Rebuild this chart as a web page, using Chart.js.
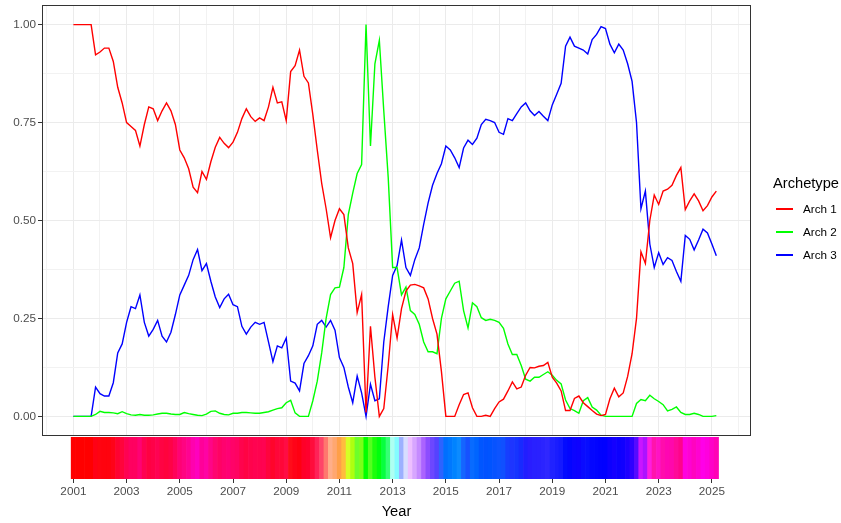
<!DOCTYPE html>
<html>
<head>
<meta charset="utf-8">
<script src="https://cdn.jsdelivr.net/npm/chart.js@4.4.1/dist/chart.umd.min.js"></script>
<style>
  body { margin: 0; background: #fff; }
  #wrap { position: relative; width: 841px; height: 523px; font-family: "Liberation Sans", Arial, sans-serif; }
  #lines { position: absolute; left: 0; top: 0; }
  #strip { position: absolute; left: 0; top: 437px; }
  #legend { position: absolute; left: 773px; top: 174px; color: #000; }
  #legend .title { font-size: 14.67px; height: 18px; line-height: 18px; }
  #legend .items { margin-top: 5px; }
  #legend .row { display: flex; align-items: center; height: 23px; font-size: 11.73px; }
  #legend .key { width: 17px; height: 2px; margin-left: 3px; margin-right: 10px; }
</style>
</head>
<body>
<div id="wrap">
  <canvas id="lines" width="841" height="437"></canvas>
  <canvas id="strip" width="841" height="86"></canvas>
  <div id="legend"></div>
</div>
<script>
// bi-monthly samples, Jan 2001 .. Mar 2025
const years = Array.from({ length: 146 }, (_, i) => 2001 + i / 6);

const seriesNames = ['Arch 1', 'Arch 2', 'Arch 3'];
const seriesColors = ['#ff0000', '#00ff00', '#0000ff'];

const arch1 = [
  1, 1, 1, 1, 1, 0.923, 0.93, 0.94, 0.94, 0.906, 0.84, 0.80,
  0.75, 0.74, 0.73, 0.69, 0.745, 0.79, 0.785, 0.755, 0.78, 0.80, 0.78, 0.745,
  0.68, 0.66, 0.632, 0.585, 0.571, 0.625, 0.605, 0.65, 0.687, 0.712, 0.697, 0.686,
  0.70, 0.725, 0.76, 0.785, 0.765, 0.753, 0.762, 0.755, 0.79, 0.84, 0.80, 0.803,
  0.755, 0.88, 0.895, 0.935, 0.868, 0.851, 0.77, 0.68, 0.595, 0.53, 0.456, 0.50,
  0.53, 0.515, 0.43, 0.39, 0.265, 0.311, 0.01, 0.23, 0.10, 0.0, 0.02, 0.13,
  0.26, 0.20, 0.275, 0.32, 0.335, 0.337, 0.333, 0.328, 0.30, 0.25, 0.21, 0.115,
  0, 0, 0, 0.03, 0.056, 0.06, 0.022, 0, 0, 0.003, 0, 0.02,
  0.037, 0.044, 0.065, 0.088, 0.07, 0.075, 0.105, 0.125, 0.124, 0.128, 0.13, 0.138,
  0.10, 0.085, 0.065, 0.015, 0.015, 0.046, 0.052, 0.035, 0.025, 0.015, 0.006, 0.002,
  0.005, 0.045, 0.072, 0.05, 0.06, 0.102, 0.16, 0.25, 0.42, 0.39, 0.50, 0.565,
  0.541, 0.575, 0.58, 0.59, 0.615, 0.635, 0.528, 0.55, 0.568, 0.55, 0.525, 0.538,
  0.56, 0.575
];

const arch2 = [
  0, 0, 0, 0, 0, 0.005, 0.013, 0.01, 0.01, 0.009, 0.007, 0.012,
  0.007, 0.004, 0.003, 0.005, 0.003, 0.003, 0.004, 0.006, 0.008, 0.008, 0.006, 0.005,
  0.005, 0.01, 0.007, 0.005, 0.003, 0.002, 0.006, 0.013, 0.014, 0.008, 0.005, 0.004,
  0.008, 0.008, 0.01, 0.01, 0.009, 0.008, 0.008, 0.01, 0.012, 0.016, 0.02, 0.022,
  0.035, 0.041, 0.009, 0, 0, 0, 0.04, 0.09, 0.162, 0.25, 0.311, 0.328,
  0.33, 0.38, 0.515, 0.57, 0.62, 0.643, 1.0, 0.69, 0.90, 0.96, 0.78, 0.61,
  0.38, 0.38, 0.31, 0.33, 0.27, 0.26, 0.235, 0.19, 0.165, 0.165, 0.16, 0.25,
  0.30, 0.32, 0.34, 0.345, 0.27, 0.226, 0.29, 0.28, 0.252, 0.245, 0.248, 0.245,
  0.24, 0.225, 0.185, 0.158, 0.158, 0.13, 0.095, 0.09, 0.10, 0.10, 0.107, 0.114,
  0.105, 0.092, 0.083, 0.042, 0.02, 0.015, 0.008, 0.04, 0.048, 0.024, 0.016, 0.003,
  0, 0, 0, 0, 0, 0, 0, 0.033, 0.043, 0.04, 0.054, 0.045,
  0.038, 0.03, 0.014, 0.018, 0.024, 0.01, 0.005, 0.005, 0.008, 0.005, 0, 0,
  0, 0.002
];

const arch3 = [
  0, 0, 0, 0, 0, 0.075, 0.058, 0.052, 0.052, 0.086, 0.162, 0.185,
  0.24, 0.28, 0.275, 0.31, 0.24, 0.205, 0.222, 0.245, 0.205, 0.19, 0.215, 0.26,
  0.31, 0.335, 0.36, 0.40, 0.426, 0.372, 0.39, 0.345, 0.305, 0.278, 0.30, 0.312,
  0.285, 0.28, 0.23, 0.21, 0.228, 0.24, 0.235, 0.24, 0.19, 0.14, 0.18, 0.175,
  0.20, 0.09, 0.085, 0.065, 0.135, 0.155, 0.18, 0.235, 0.245, 0.228, 0.245, 0.22,
  0.15, 0.125, 0.075, 0.035, 0.103, 0.06, 0, 0.082, 0.04, 0.045, 0.19, 0.28,
  0.36, 0.385, 0.45, 0.38, 0.36, 0.40, 0.43, 0.49, 0.545, 0.59, 0.62, 0.645,
  0.69, 0.68, 0.66, 0.635, 0.685, 0.705, 0.694, 0.71, 0.745, 0.758, 0.755, 0.75,
  0.725, 0.72, 0.76, 0.755, 0.773, 0.79, 0.80, 0.78, 0.768, 0.778, 0.766, 0.755,
  0.795, 0.822, 0.85, 0.945, 0.968, 0.945, 0.94, 0.935, 0.925, 0.962, 0.975, 0.995,
  0.99, 0.95, 0.928, 0.95, 0.935, 0.90, 0.855, 0.75, 0.53, 0.575, 0.44, 0.38,
  0.418, 0.388, 0.405, 0.398, 0.37, 0.345, 0.462, 0.452, 0.425, 0.45, 0.478, 0.468,
  0.44, 0.41
];

const yTicks = [0, 0.25, 0.5, 0.75, 1];
const xTickYears = [2001, 2003, 2005, 2007, 2009, 2011, 2013, 2015, 2017, 2019, 2021, 2023, 2025];

const allSeries = [arch1, arch2, arch3];
const xMin = 1999.82, xMax = 2026.47;

Chart.defaults.font.family = '"Liberation Sans", Arial, sans-serif';
Chart.defaults.animation = false;

// strip colour = archetype weights scaled so the largest channel is full
const stripColors = years.map((_, i) => {
  const w = allSeries.map(s => s[i]);
  const m = Math.max(...w) || 1;
  return 'rgb(' + w.map(v => Math.round(255 * v / m)).join(',') + ')';
});

const panelBorder = {
  id: 'panelBorder',
  afterDraw(chart) {
    const { ctx, chartArea: a } = chart;
    ctx.save();
    ctx.strokeStyle = '#333333';
    ctx.lineWidth = 1;
    ctx.strokeRect(Math.round(a.left) + 0.5, Math.round(a.top) + 0.5,
      Math.round(a.right - a.left) - 1, Math.round(a.bottom - a.top) - 1);
    ctx.restore();
  }
};

const noPad = s => { s.paddingTop = 0; s.paddingBottom = 0; s.paddingLeft = 0; s.paddingRight = 0; };
const isMajorY = v => yTicks.some(t => Math.abs(t - v) < 1e-6);

const linesChart = new Chart(document.getElementById('lines'), {
  type: 'line',
  data: {
    datasets: seriesNames.map((name, k) => ({
      label: name,
      data: years.map((t, i) => ({ x: t, y: allSeries[k][i] })),
      borderColor: seriesColors[k],
      backgroundColor: seriesColors[k],
      borderWidth: 1.4,
      pointRadius: 0,
      tension: 0
    }))
  },
  options: {
    responsive: false,
    layout: { padding: { top: 5, right: 90, bottom: 1, left: 0 } },
    plugins: { legend: { display: false }, tooltip: { enabled: false } },
    scales: {
      x: {
        type: 'linear',
        min: xMin,
        max: xMax,
        afterBuildTicks: s => { s.ticks = []; for (let y = 2000; y <= 2026; y++) s.ticks.push({ value: y }); },
        afterFit: s => { s.height = 0; noPad(s); },
        ticks: { display: false },
        border: { display: false },
        grid: {
          drawTicks: false,
          color: c => (c.tick && c.tick.value % 2 === 1) ? '#ebebeb' : '#f2f2f2',
          lineWidth: 1
        }
      },
      y: {
        min: -0.05,
        max: 1.05,
        afterBuildTicks: s => { s.ticks = []; for (let v = 0; v <= 8; v++) s.ticks.push({ value: v / 8 }); },
        afterFit: s => { s.width = 42; noPad(s); },
        border: { display: false },
        ticks: {
          padding: 2,
          color: '#4d4d4d',
          font: { size: 11.73 },
          callback: v => isMajorY(v) ? v.toFixed(2) : ''
        },
        grid: {
          tickLength: 4,
          tickWidth: 1,
          tickColor: c => (c.tick && isMajorY(c.tick.value)) ? '#333333' : 'rgba(0,0,0,0)',
          color: c => (c.tick && isMajorY(c.tick.value)) ? '#ebebeb' : '#f2f2f2',
          lineWidth: 1
        }
      }
    }
  },
  plugins: [panelBorder]
});

new Chart(document.getElementById('strip'), {
  type: 'bar',
  data: {
    datasets: [{
      label: 'strip',
      data: years.map(t => ({ x: t, y: 1 })),
      backgroundColor: stripColors,
      borderWidth: 0,
      barPercentage: 1,
      categoryPercentage: 1
    }]
  },
  options: {
    responsive: false,
    layout: { padding: { top: 0, right: 90, bottom: 0, left: 42 } },
    plugins: { legend: { display: false }, tooltip: { enabled: false } },
    scales: {
      x: {
        type: 'linear',
        offset: false,
        min: xMin,
        max: xMax,
        afterBuildTicks: s => { s.ticks = xTickYears.map(v => ({ value: v })); },
        afterFit: s => { s.height = 44; noPad(s); },
        border: { display: false },
        grid: { offset: false, drawOnChartArea: false, tickLength: 4, tickWidth: 1, tickColor: '#333333' },
        ticks: {
          padding: 2,
          maxRotation: 0,
          autoSkip: false,
          color: '#4d4d4d',
          font: { size: 11.73 },
          callback: v => String(v)
        },
        title: {
          display: true,
          text: 'Year',
          color: '#000000',
          font: { size: 14.67 },
          padding: { top: 0, bottom: 2 }
        }
      },
      y: { display: false, min: 0, max: 1 }
    }
  }
});

// legend built from the line chart's datasets
const legendEl = document.getElementById('legend');
legendEl.innerHTML = '<div class="title">Archetype</div><div class="items"></div>';
const itemsEl = legendEl.querySelector('.items');
linesChart.data.datasets.forEach(ds => {
  const row = document.createElement('div');
  row.className = 'row';
  const key = document.createElement('span');
  key.className = 'key';
  key.style.background = ds.borderColor;
  const txt = document.createElement('span');
  txt.textContent = ds.label;
  row.appendChild(key);
  row.appendChild(txt);
  itemsEl.appendChild(row);
});
</script>
</body>
</html>
